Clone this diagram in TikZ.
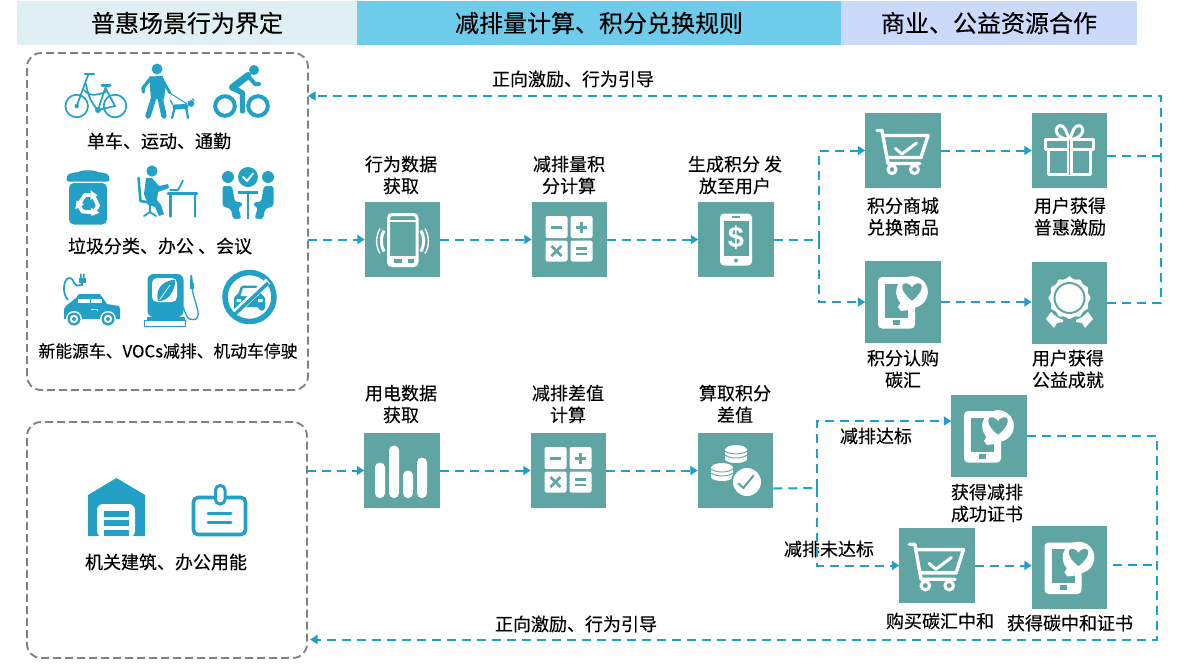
\documentclass[tikz,border=0pt]{standalone}
\usepackage{fontspec}
\setmainfont{Noto Sans CJK SC}[FakeBold=0.2]
\newfontfamily\dollarfont{Liberation Sans}
\usetikzlibrary{arrows.meta,calc}
\definecolor{boxteal}{HTML}{5FA5A3}
\definecolor{linkblue}{HTML}{1F9FC9}
\definecolor{iconblue}{HTML}{22A0C6}
\definecolor{frameg}{HTML}{7F7F7F}
\definecolor{bandA}{HTML}{DFEFF3}
\definecolor{bandB}{HTML}{6FCBEA}
\definecolor{bandC}{HTML}{CBD9FB}
\tikzset{
  x=1pt,y=-1pt,
  band/.style={inner sep=0pt,outer sep=0pt,minimum height=44pt,font=\fontsize{24}{28}\selectfont},
  tealbox/.style={fill=boxteal,inner sep=0pt,outer sep=0pt,minimum width=75.5pt,minimum height=75.5pt},
  lab/.style={inner sep=0pt,align=center,font=\fontsize{18}{21.8}\selectfont},
  grp/.style={draw=frameg,line width=1.8pt,dash pattern=on 8pt off 4pt,rounded corners=14pt,inner sep=0pt,outer sep=0pt},
  conn/.style={draw=linkblue,line width=2pt,dash pattern=on 9pt off 6pt},
  arr/.style={conn,-{Triangle[length=7.5pt,width=9pt]}},
  pics/iconcalc/.style={code={
    \fill[white,rounded corners=2pt] (-24,-23.5) rectangle (-2,-1.5);
    \fill[white,rounded corners=2pt] (1,-23.5) rectangle (23,-1.5);
    \fill[white,rounded corners=2pt] (-24,1) rectangle (-2,22);
    \fill[white,rounded corners=2pt] (1,1) rectangle (23,22);
    \fill[boxteal] (-18.5,-13.8) rectangle (-7.5,-10.8);
    \fill[boxteal] (6.5,-13.8) rectangle (17.5,-10.8);
    \fill[boxteal] (10.5,-18) rectangle (13.5,-7);
    \draw[boxteal,line width=2.8pt] (-18,6.5) -- (-8,16.5) (-18,16.5) -- (-8,6.5);
    \fill[boxteal] (6.5,7.5) rectangle (17.5,10);
    \fill[boxteal] (6.5,13) rectangle (17.5,15.5);
  }},
  pics/iconvibe/.style={code={
    \draw[white,line width=3pt,rounded corners=3.5pt] (-14,-25) rectangle (14.5,26);
    \draw[white,line width=2pt] (-14,-19) -- (14.5,-19);
    \fill[white] (-14,16) rectangle (14.5,26);
    \fill[boxteal] (-9,19.5) rectangle (-1,23.5);
    \fill[boxteal] (5,19.5) rectangle (11,23.5);
    \draw[white,line width=3pt] (-18.5,-9) .. controls (-22,-3) and (-22,6) .. (-18.5,12);
    \draw[white,line width=1.4pt] (-22.5,-11) .. controls (-27,-3) and (-27,7) .. (-22.5,14);
    \draw[white,line width=3pt] (18.5,-9) .. controls (22,-3) and (22,6) .. (18.5,12);
    \draw[white,line width=1.4pt] (22.5,-11) .. controls (27,-3) and (27,7) .. (22.5,14);
  }},
  pics/icondollar/.style={code={
    \fill[white,rounded corners=4pt] (-16,-26) rectangle (16,26);
    \fill[boxteal] (-12.5,-19) rectangle (12.5,16);
    \fill[boxteal] (-4,-23.5) rectangle (4,-22);
    \fill[boxteal] (0,21) circle (2);
    \node[white,inner sep=0pt,font=\dollarfont\bfseries\fontsize{29}{29}\selectfont] at (0,-1.5) {\$};
  }},
  pics/iconcart/.style={code={
    \draw[white,line width=3.4pt,line join=round,line cap=round] (-26,-20) -- (-21,-20) -- (-15,13) -- (17,13);
    \draw[white,line width=3.4pt,line join=round,line cap=round] (-20,-15) -- (25,-15) -- (18,7) -- (-16,7);
    \draw[white,line width=3pt,line join=round,line cap=round] (-7.5,-2) -- (-1,3.5) -- (13.5,-7.5);
    \draw[white,line width=3pt] (-11,19) circle (4) (11.5,19) circle (4);
  }},
  pics/icongift/.style={code={
    \draw[white,line width=3pt,line join=round] (-24,-11) rectangle (24,-1);
    \draw[white,line width=3pt,line join=round] (-21,-1) rectangle (21,24);
    \fill[white] (-3,-11) rectangle (3,24);
    \draw[boxteal,line width=.8pt] (0,-11) -- (0,24);
    \draw[white,line width=3pt] (-1,-11) .. controls (-12,-12) and (-17,-21) .. (-10,-25) .. controls (-5,-26) and (-3,-18) .. (0,-11);
    \draw[white,line width=3pt] (1,-11) .. controls (12,-12) and (17,-21) .. (10,-25) .. controls (5,-26) and (3,-18) .. (0,-11);
  }},
  pics/iconheart/.style={code={
    \fill[white,rounded corners=4pt] (-25,-25) rectangle (12,26.5);
    \fill[boxteal] (-18,-18.5) rectangle (5,15.5);
    \fill[boxteal] (-10,17.5) rectangle (-3,22.5);
    \fill[white] (9,-10) circle (15.8);
    \fill[white] (0,-4) -- (-5,5) -- (-2,9) -- (6,8) -- cycle;
    \fill[boxteal,shift={(9,-10)},scale=1.15] (0,7.5) .. controls (-11,-1) and (-10,-8.5) .. (-4.5,-7.5) .. controls (-2,-7.2) and (-0.5,-5) .. (0,-4) .. controls (0.5,-5) and (2,-7.2) .. (4.5,-7.5) .. controls (10,-8.5) and (11,-1) .. (0,7.5) -- cycle;
  }},
  pics/iconrosette/.style={code={
    \fill[white] (-18.5,9) -- (-23.5,16) -- (-15.5,25) -- (-12.5,20) -- (-6.5,19) -- (-6.5,10) -- cycle;
    \fill[white] (18.5,9) -- (23.5,16) -- (15.5,25) -- (12.5,20) -- (6.5,19) -- (6.5,10) -- cycle;
    \begin{scope}[shift={(0,-5)}]
    \fill[boxteal] (0,0) circle (22.7);
    \fill[white,rounded corners=1pt] (0,-21.5) \foreach \a in {15,45,...,345} { -- ({19*sin(\a)},{-19*cos(\a)}) -- ({21.5*sin(\a+15)},{-21.5*cos(\a+15)}) } -- cycle;
    \draw[boxteal,line width=2pt] (0,0) circle (15);
    \end{scope}
  }},
  pics/iconbars/.style={code={
    \foreach \xa/\ya in {-27/-8,-13/-25,1/0,15/-13}{
      \fill[white,rounded corners=4.8pt] (\xa,\ya) rectangle (\xa+10,27.5);
    }
  }},
  pics/iconcoins/.style={code={
    \foreach \cx/\cy in {0.5/-19.5,-13.5/-1.5}{
      \fill[white] (\cx-11,\cy-1) rectangle (\cx+11,\cy+8);
      \fill[white] (\cx,\cy-1) ellipse (11 and 5);
      \fill[white] (\cx,\cy+8) ellipse (11 and 4);
      \draw[boxteal,line width=.9pt] (\cx-11,\cy+0) .. controls (\cx-6,\cy+4) and (\cx+6,\cy+4) .. (\cx+11,\cy+0);
      \draw[boxteal,line width=.9pt] (\cx-11,\cy+4) .. controls (\cx-6,\cy+8) and (\cx+6,\cy+8) .. (\cx+11,\cy+4);
    }
    \fill[boxteal] (11.5,11.5) circle (16);
    \fill[white] (11.5,11.5) circle (14);
    \draw[boxteal,line width=2pt,line cap=round,line join=round] (3,13) -- (8,17.5) -- (18,5);
  }},
}
\begin{document}
\begin{tikzpicture}
\useasboundingbox (0,0) rectangle (1200,665);
\fill[white] (0,0) rectangle (1200,665);
% header bands
\node[band,fill=bandA,minimum width=340pt] (h1) at (187,23) {普惠场景行为界定};
\node[band,fill=bandB,minimum width=484pt] (h2) at (599,23) {减排量计算、积分兑换规则};
\node[band,fill=bandC,minimum width=296pt] (h3) at (989,23) {商业、公益资源合作};
% group frames
\node[grp,minimum width=281pt,minimum height=337pt] (groupA) at (167.5,221.5) {};
\node[grp,minimum width=280pt,minimum height=236pt] (groupB) at (167,540) {};
% boxes
\node[tealbox] (a1) at (402.5,239.5) {};
\node[tealbox] (a2) at (569.5,239.5) {};
\node[tealbox] (a3) at (736,239.5) {};
\node[tealbox] (b1) at (903,150.5) {};
\node[tealbox] (b2) at (1069.5,150.5) {};
\node[tealbox,minimum height=82pt] (c1) at (903,302) {};
\node[tealbox,minimum height=82pt] (c2) at (1069.5,303) {};
\node[tealbox] (d1) at (402,470.5) {};
\node[tealbox] (d2) at (568.5,470.5) {};
\node[tealbox] (d3) at (735.5,470.5) {};
\node[tealbox,minimum height=82pt] (e1) at (989,436) {};
\node[tealbox] (f1) at (937,565.5) {};
\node[tealbox,minimum height=83pt] (f2) at (1069.5,567.5) {};
% box icons
\pic at (a1) {iconvibe};
\pic at (a2) {iconcalc};
\pic at (a3) {icondollar};
\pic at (b1) {iconcart};
\pic at (b2) {icongift};
\pic at (c1) {iconheart};
\pic at (c2) {iconrosette};
\pic at (d1) {iconbars};
\pic at (d2) {iconcalc};
\pic at (d3) {iconcoins};
\pic at (e1) {iconheart};
\pic[scale=1.06] at (f1) {iconcart};
\pic at (f2) {iconheart};
% labels
\node[lab] (l1) at (159,141) {单车、运动、通勤};
\node[lab] (l2) at (160,246) {垃圾分类、办公 、会议};
\node[lab,font=\fontsize{16.8}{21}\selectfont] (l3) at (168,351) {新能源车、VOCs减排、机动车停驶};
\node[lab] (l4) at (166,562) {机关建筑、办公用能};
\node[lab] (ta1) at (401,175) {行为数据\\获取};
\node[lab] (ta2) at (569,175) {减排量积\\分计算};
\node[lab] (ta3) at (735,175) {生成积分 发\\放至用户};
\node[lab] (tb1) at (903,216.5) {积分商城\\兑换商品};
\node[lab] (tb2) at (1070,216.5) {用户获得\\普惠激励};
\node[lab] (tc1) at (903,369) {积分认购\\碳汇};
\node[lab] (tc2) at (1068,369) {用户获得\\公益成就};
\node[lab] (td1) at (401,404) {用电数据\\获取};
\node[lab] (td2) at (568,404) {减排差值\\计算};
\node[lab] (td3) at (735,404) {算取积分\\差值};
\node[lab] (te1) at (987,503) {获得减排\\成功证书};
\node[lab] (tf1) at (940,621) {购买碳汇中和};
\node[lab] (tf2) at (1070,623) {获得碳中和证书};
\node[lab] (tup) at (573,79) {正向激励、行为引导};
\node[lab] (tdn) at (576,624) {正向激励、行为引导};
\node[lab] (tok) at (876,436) {减排达标};
\node[lab] (tno) at (829,549) {减排未达标};
% connectors
\coordinate (ja) at (819,239.5);
\coordinate (jtop) at (1161,96);
\coordinate (jb) at (1161,156);
\coordinate (jd) at (817,488);
\coordinate (jbot) at (1157,639.5);
\coordinate (jf) at (1157,565);
\draw[arr] (groupA.east |- a1) -- (a1);
\draw[arr] (a1) -- (a2);
\draw[arr] (a2) -- (a3);
\draw[conn] (a3) -- (ja);
\draw[arr] (ja) |- (b1);
\draw[arr] (ja) |- (c1);
\draw[arr] (b1) -- (b2);
\draw[arr] (c1 -| c1.east) -- (c2.west |- c1);
\draw[conn] ([yshift=-5.5pt]b2.east) -- (jb);
\draw[arr] (c2) -| (jtop) -- (groupA.east |- jtop);
\draw[arr] (groupB.east |- d1) -- (d1);
\draw[arr] (d1) -- (d2);
\draw[arr] (d2) -- (d3);
\draw[conn] ([yshift=-18pt]d3.east) -- (jd);
\draw[arr] (jd) |- ([yshift=15pt]e1.west);
\draw[arr] (jd) |- (f1);
\draw[arr] (f1) -- (f2.west |- f1);
\draw[conn] ([xshift=6pt]f2.east |- jf) -- (jf);
\draw[arr] (e1) -| (jbot) -- ([xshift=3pt]groupB.east |- jbot);
% bicycle
\begin{scope}[draw=iconblue,line width=1.7pt,line join=round,line cap=round]
\draw (76.7,106) circle (11.3) (115,106) circle (11.3);
\fill[iconblue] (76.7,106) circle (2.2);
\draw[line width=2.2pt] (85,74) -- (94,74);
\draw (88.5,74) -- (76.7,106);
\draw[line width=3pt] (102,85) -- (110,85);
\draw (106,86) -- (98,110) -- (115,106) -- (106,89);
\draw (86,84) .. controls (88,96) and (92,104) .. (98,110);
\draw (84,90) .. controls (90,98) and (100,94) .. (106,92);
\fill[iconblue] (98,110) circle (3);
\end{scope}
% walker and dog
\begin{scope}[line cap=round,line join=round]
\fill[iconblue] (157,69) circle (5.4);
\fill[iconblue] (149.5,76.5) -- (163,76) -- (165.5,88) -- (164,99) -- (151,99) -- (150,88) -- cycle;
\draw[iconblue,line width=5.4pt] (154,97) -- (148,116);
\draw[iconblue,line width=5.4pt] (160,97) -- (164,116);
\draw[iconblue,line width=3.4pt] (151,78) -- (143,88) -- (143.5,92);
\draw[iconblue,line width=2.8pt] (162,79) -- (170,93);
\draw[iconblue,line width=1pt] (170,93) -- (187,104);
\draw[iconblue,line width=5pt] (175,107) -- (186,106.5);
\draw[iconblue,line width=2.2pt] (175,107) -- (172,118) (186,107) -- (188,118);
\draw[iconblue,line width=1.2pt] (173,105) -- (170,100);
\fill[iconblue] (191,103.5) circle (3.4);
\fill[iconblue] (192,100) -- (193,98) -- (195,101) -- cycle;
\end{scope}
% cyclist
\begin{scope}[line cap=round,line join=round]
\draw[iconblue,line width=4pt] (225,106) circle (9.8) (258,106) circle (9.8);
\fill[iconblue] (254,70) circle (5);
\draw[iconblue,line width=7pt] (232.5,87.5) -- (248,75.5);
\draw[iconblue,line width=4pt] (248,76) -- (255,84) -- (259,84);
\draw[iconblue,line width=5.4pt] (234,88.5) -- (242.5,93) -- (242.5,111);
\end{scope}
% recycle bin
\fill[iconblue,rounded corners=2pt] (66.5,181.5) -- (66.5,178) .. controls (68,173) and (75,172.5) .. (79,172) .. controls (83,170) and (93,170) .. (97,172) .. controls (101,172.5) and (108,173) .. (109.5,178) -- (109.5,181.5) -- cycle;
\fill[iconblue,rounded corners=5pt] (69,183) -- (107,183) -- (107,224.5) -- (69,224.5) -- cycle;
\foreach \r in {0,120,240}{
  \begin{scope}[shift={(88.5,204)},rotate=\r]
  \draw[white,line width=3.8pt] (-9.5,0) -- (-3.5,-9) -- (2,-9);
  \fill[white] (2,-14) -- (9,-8.5) -- (2,-4) -- cycle;
  \end{scope}
}
% person at desk
\begin{scope}[line cap=round,line join=round]
\fill[iconblue] (152,171) circle (5.6);
\draw[iconblue,line width=2.6pt] (138.5,178) -- (140.5,201) -- (152,203);
\fill[iconblue] (146,178) -- (152,178) -- (159,186) -- (168,184) -- (169,188) -- (158,192) -- (157,200) -- (161,205) -- (164,214) -- (159,216) -- (155,207) -- (148,205) -- (144,194) -- cycle;
\draw[iconblue,line width=1.8pt] (150,204) -- (150,212) (144,216) -- (150,212) -- (156,216);
\draw[iconblue,line width=2.8pt] (168,193.5) -- (197,193.5);
\draw[iconblue,line width=2.4pt] (170.5,193.5) -- (170.5,216.5) (195,193.5) -- (195,216.5);
\draw[iconblue,line width=1.7pt] (170,190) -- (178,190) -- (183,180.5);
\end{scope}
% meeting
\fill[iconblue] (248,177) circle (10);
\draw[white,line width=2pt,line cap=round,line join=round] (243,177) -- (247,181) -- (253,173.5);
\fill[iconblue] (228,177) circle (6) (268,177) circle (6);
\fill[iconblue,rounded corners=2.5pt] (222.5,186) -- (232,186) -- (235,202) -- (242,202) -- (242,207) -- (238,207) -- (241.5,218.5) -- (233,219) -- (231,209) -- (222.5,206) -- cycle;
\fill[iconblue,rounded corners=2.5pt] (273.5,186) -- (264,186) -- (261,202) -- (254,202) -- (254,207) -- (258,207) -- (254.5,218.5) -- (263,219) -- (265,209) -- (273.5,206) -- cycle;
\draw[iconblue,line width=2.4pt] (238,192.5) -- (258,192.5) (248,192.5) -- (248,219);
% EV car
\draw[iconblue,line width=1.7pt] (68,300) .. controls (62,294) and (63,279) .. (69,278) .. controls (76,278) and (72,290) .. (82,284);
\fill[iconblue] (78.5,278) rectangle (85.5,283);
\fill[iconblue] (80,273.5) rectangle (81.5,278) (83,273.5) rectangle (84.5,278);
\fill[iconblue] (81,283) rectangle (83,286);
\fill[iconblue] (64,319) -- (64,309) .. controls (66,304) and (72,302) .. (76,298) -- (79,294) -- (100,294) -- (107,304) -- (119,306) -- (120,309) -- (120,319) -- cycle;
\fill[white] (78,299) rectangle (102,303);
\draw[iconblue,line width=.7pt] (90,299) -- (90,303);
\draw[white,line width=.9pt] (91,309) -- (97,309) -- (97,311);
\fill[white] (74,319) circle (8) (108,319) circle (8);
\fill[iconblue] (74,319) circle (6.5) (108,319) circle (6.5);
\fill[white] (74,319) circle (4.2) (108,319) circle (4.2);
\fill[iconblue] (74,319) circle (2) (108,319) circle (2);
% charging pump
\fill[iconblue,rounded corners=6pt] (147.5,317) -- (147.5,274) -- (183.5,274) -- (183.5,317) -- cycle;
\fill[iconblue] (146.5,317) rectangle (185,320);
\fill[white,rounded corners=5pt] (152,278) rectangle (177,302);
\fill[iconblue] (158,301) .. controls (155,288) and (163,281) .. (175,279.5) .. controls (176,290) and (168,302) .. (158,301) -- cycle;
\draw[white,line width=.7pt] (159.5,300) -- (170,285);
\draw[iconblue,line width=1.3pt] (144.5,320.5) rectangle (185.5,326.5);
\draw[iconblue,line width=1.3pt] (183.5,307) .. controls (187,322) and (192,320) .. (196,319) .. controls (202,315) and (194,302) .. (192,288);
\fill[iconblue] (190,283) rectangle (194,289);
\fill[iconblue] (190.5,275) -- (192,275) -- (193,283) -- (190,283) -- cycle;
% no-car sign
\draw[iconblue,line width=5.5pt] (249.5,297) circle (24.5);
\fill[iconblue,rounded corners=2pt] (234,310) -- (234,296) -- (238,295) -- (241,285.5) -- (258,285.5) -- (261,295) -- (265,296) -- (265,310) -- (260,311) -- (259,307) -- (240,307) -- (239,311) -- cycle;
\fill[white] (240.5,296) -- (243,288) -- (256,288) -- (258.5,296) -- cycle;
\fill[white] (236.5,299) rectangle (241,302) (258,299) rectangle (262.5,302);
\draw[white,line width=6.5pt] (268,281) -- (235,313);
\draw[iconblue,line width=3.4pt] (268,283) -- (233,316);
% warehouse
\fill[iconblue] (88,495) -- (116.5,478) -- (145,495) -- (145,536) -- (88,536) -- cycle;
\fill[white,rounded corners=6pt] (97,537) -- (97,504) -- (135,504) -- (135,537) -- cycle;
\fill[white] (96,536) rectangle (136,537);
\fill[iconblue] (104,511) rectangle (129,516.5);
\fill[iconblue] (104,520) rectangle (129,525.5);
\fill[iconblue] (104,529.5) rectangle (129,536);
% badge
\draw[iconblue,line width=3.6pt,rounded corners=4.5pt] (193.5,497.5) rectangle (245.5,534.5);
\fill[white,rounded corners=5pt] (215.5,485.5) rectangle (225,504);
\draw[iconblue,line width=3pt,rounded corners=4.5pt] (215.5,485.5) rectangle (225,504);
\draw[iconblue,line width=3pt,line cap=round] (208,513) -- (231,513) (208,522) -- (231,522);
\end{tikzpicture}
\end{document}
